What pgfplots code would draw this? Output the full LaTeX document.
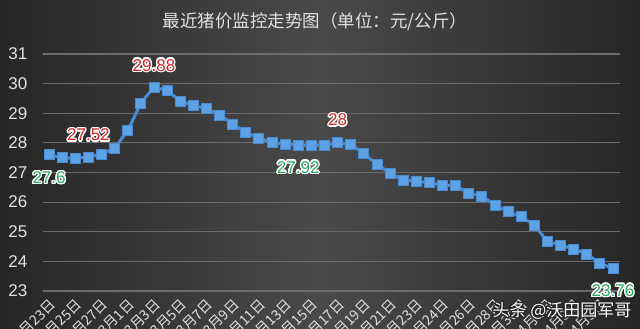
\documentclass[border=0pt]{standalone}
\usepackage{pgfplots}
\pgfplotsset{compat=1.18}
\usepackage{fontspec}
\setmainfont{Liberation Sans}
\newfontfamily\cjk{Noto Sans CJK SC}
\definecolor{bgdark}{HTML}{262626}
\definecolor{bgmid}{HTML}{4A4A4A}
\definecolor{gridc}{HTML}{6C6C6C}
\definecolor{txt}{HTML}{E2E2E2}
\definecolor{linec}{HTML}{4A8BD3}
\definecolor{markc}{HTML}{5EA2E6}
\definecolor{redl}{HTML}{D02828}
\definecolor{greenl}{HTML}{2FA864}
\pgfplotstableread{
x y
0 27.60
1 27.50
2 27.48
3 27.52
4 27.62
5 27.82
6 28.42
7 29.34
8 29.88
9 29.77
10 29.41
11 29.26
12 29.16
13 28.94
14 28.64
15 28.35
16 28.16
17 28.01
18 27.96
19 27.92
20 27.92
21 27.92
22 28.00
23 27.96
24 27.63
25 27.29
26 26.97
27 26.75
28 26.71
29 26.65
30 26.58
31 26.55
32 26.30
33 26.21
34 25.90
35 25.68
36 25.51
37 25.23
38 24.67
39 24.55
40 24.42
41 24.25
42 23.94
43 23.76
}\pricedata
\newcommand\lblfont{\fontsize{17}{17}\selectfont}
\newcommand\halotext[4]{%
  \foreach \a in {0,30,...,330} {\node[font=\lblfont,text=white,inner sep=0pt] at ([shift={(\a:1.4pt)},yshift=#2]#1) {#4};}
  \node[font=\lblfont,text=#3,inner sep=0pt] at ([yshift=#2]#1) {#4};}
\begin{document}
\begin{tikzpicture}
\useasboundingbox (0,0) rectangle (640pt,329pt);
\clip (0,0) rectangle (640pt,329pt);
\shade[left color=bgdark,right color=bgdark,middle color=bgmid] (0,0) rectangle (640pt,329pt);
\node[font=\cjk\fontsize{17.5}{17.5}\selectfont,text=txt] at (315pt,307pt) {最近猪价监控走势图（单位：元/公斤）};
\begin{axis}[
  at={(42.5pt,38pt)}, anchor=south west,
  width=577pt, height=237pt, scale only axis,
  xmin=-0.5, xmax=43.5, ymin=23, ymax=31,
  axis line style={draw=none},
  major tick length=0pt,
  ytick={23,24,...,31},
  ymajorgrids, grid style={gridc, line width=1.2pt},
  xtick={0,2,...,42},
  xticklabels={2月23日,2月25日,2月27日,3月1日,3月3日,3月5日,3月7日,3月9日,3月11日,3月13日,3月15日,3月17日,3月19日,3月21日,3月23日,3月24日,3月26日,3月28日,3月30日,4月1日,4月3日,4月5日},
  xticklabel style={xshift=4pt,yshift=-11pt,rotate=45,anchor=east,inner sep=0pt,font=\cjk\fontsize{14}{14}\selectfont,text=txt},
  yticklabel style={anchor=east,inner sep=0pt,xshift=-15pt,font=\fontsize{17}{17}\selectfont,text=txt},
  /pgf/number format/assume math mode=true,
  clip=false,
]
\addplot[color=linec, line width=3pt, mark=square*, mark size=5pt,
  mark options={fill=markc, draw=linec, line width=0.8pt}] table[x=x,y=y] {\pricedata};
\coordinate (p0) at (axis cs:0,27.6);
\coordinate (p3) at (axis cs:3,27.52);
\coordinate (p8) at (axis cs:8,29.88);
\coordinate (p19) at (axis cs:19,27.92);
\coordinate (p22) at (axis cs:22,28);
\coordinate (p43) at (axis cs:43,23.76);
\end{axis}
\halotext{p0}{-23pt}{greenl}{27.6}
\halotext{p3}{22pt}{redl}{27.52}
\halotext{p8}{22pt}{redl}{29.88}
\halotext{p19}{-22pt}{greenl}{27.92}
\halotext{p22}{23pt}{redl}{28}
\halotext{p43}{-22pt}{greenl}{23.76}
\foreach \a in {0,30,...,330} {\node[font=\cjk\fontsize{17}{17}\selectfont,text=black!85,inner sep=0pt] at ([shift={(\a:1.3pt)}]562pt,18pt) {头条 @沃田园军哥};}
\node[font=\cjk\fontsize{17}{17}\selectfont,text=white,inner sep=0pt] at (562pt,18pt) {头条 @沃田园军哥};
\end{tikzpicture}
\end{document}
